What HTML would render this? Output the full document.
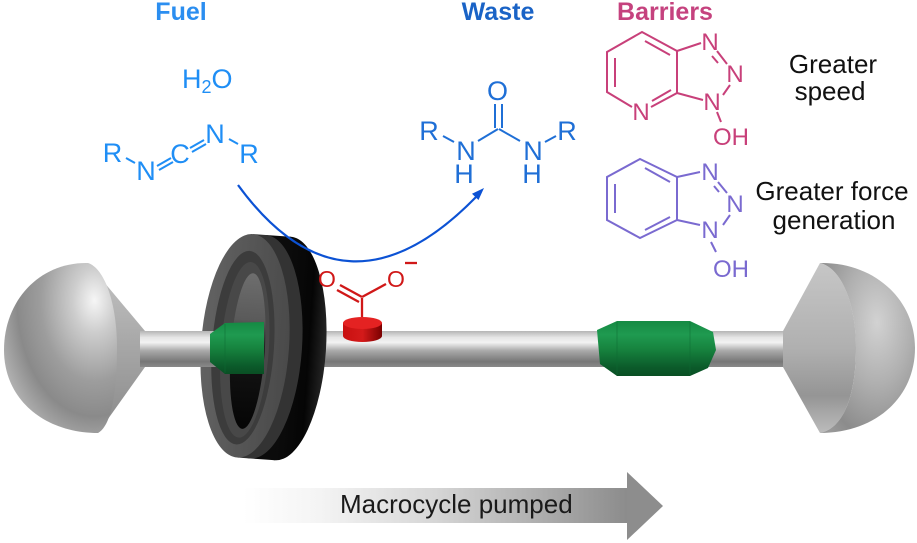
<!DOCTYPE html>
<html><head><meta charset="utf-8"><style>
html,body{margin:0;padding:0;background:#fff;}
svg{display:block;}
text{font-family:"Liberation Sans",Arial,sans-serif;}
</style></head><body>
<svg width="917" height="543" viewBox="0 0 917 543" xmlns="http://www.w3.org/2000/svg">
<defs>
<linearGradient id="axle" x1="0" y1="0" x2="0" y2="1">
<stop offset="0" stop-color="#b5b5b5"/><stop offset="0.18" stop-color="#e6e6e6"/><stop offset="0.32" stop-color="#f2f2f2"/><stop offset="0.55" stop-color="#a9a9a9"/><stop offset="0.85" stop-color="#777"/><stop offset="1" stop-color="#8a8a8a"/>
</linearGradient>
<linearGradient id="green" x1="0" y1="0" x2="0" y2="1">
<stop offset="0" stop-color="#158a43"/><stop offset="0.25" stop-color="#1f9a50"/><stop offset="0.5" stop-color="#17843f"/><stop offset="0.85" stop-color="#0b5a2a"/><stop offset="1" stop-color="#0a4f24"/>
</linearGradient>
<radialGradient id="domeL" cx="0.8" cy="0.22" r="0.95">
<stop offset="0" stop-color="#f6f6f6"/><stop offset="0.2" stop-color="#cdcdcd"/><stop offset="0.5" stop-color="#9d9d9d"/><stop offset="0.72" stop-color="#8a8a8a"/><stop offset="1" stop-color="#bdbdbd"/>
</radialGradient>
<linearGradient id="coneL" x1="0" y1="0" x2="0" y2="1">
<stop offset="0" stop-color="#c4c4c4"/><stop offset="0.5" stop-color="#a6a6a6"/><stop offset="1" stop-color="#8a8a8a"/>
</linearGradient>
<radialGradient id="domeR" cx="0.6" cy="0.35" r="0.8">
<stop offset="0" stop-color="#d2d2d2"/><stop offset="0.45" stop-color="#b0b0b0"/><stop offset="0.85" stop-color="#8c8c8c"/><stop offset="1" stop-color="#999"/>
</radialGradient>
<linearGradient id="coneR" x1="0" y1="0" x2="0" y2="1">
<stop offset="0" stop-color="#c6c6c6"/><stop offset="0.5" stop-color="#b0b0b0"/><stop offset="0.78" stop-color="#959595"/><stop offset="1" stop-color="#bcbcbc"/>
</linearGradient>
<linearGradient id="face" x1="0" y1="0" x2="1" y2="0">
<stop offset="0" stop-color="#626262"/><stop offset="1" stop-color="#4a4a4a"/>
</linearGradient>
<linearGradient id="hole" x1="0" y1="0" x2="0" y2="1">
<stop offset="0" stop-color="#6e6e6e"/><stop offset="0.3" stop-color="#5a5a5a"/><stop offset="0.5" stop-color="#151515"/><stop offset="1" stop-color="#050505"/>
</linearGradient>
<linearGradient id="blk" x1="0" y1="0" x2="1" y2="0">
<stop offset="0" stop-color="#161616"/><stop offset="0.8" stop-color="#050505"/><stop offset="1" stop-color="#262626"/>
</linearGradient>
<linearGradient id="redside" x1="0" y1="0" x2="1" y2="0">
<stop offset="0" stop-color="#c81010"/><stop offset="0.5" stop-color="#d41a1a"/><stop offset="1" stop-color="#7a0000"/>
</linearGradient>
<linearGradient id="arrowG" x1="243" y1="0" x2="627" y2="0" gradientUnits="userSpaceOnUse">
<stop offset="0" stop-color="#ffffff"/><stop offset="0.2" stop-color="#f4f4f4"/><stop offset="0.5" stop-color="#d6d6d6"/><stop offset="0.8" stop-color="#aaaaaa"/><stop offset="1" stop-color="#8c8c8c"/>
</linearGradient>
</defs>

<!-- Macrocycle pumped arrow -->
<rect x="243" y="488" width="385" height="35" fill="url(#arrowG)"/>
<polygon points="627,472 663,506 627,540" fill="#8d8d8d"/>
<text x="340" y="513" font-size="26" fill="#1a1a1a">Macrocycle pumped</text>

<!-- axle -->
<rect x="140" y="331" width="648" height="36" fill="url(#axle)"/>
<!-- right green -->
<polygon points="597,330 617,321 690,321 713,332 716,350 708,368 690,376 617,376 600,364" fill="url(#green)"/>
<line x1="617" y1="322" x2="617" y2="375" stroke="#0d6a32" stroke-width="1" opacity="0.5"/>
<line x1="690" y1="322" x2="690" y2="375" stroke="#0d6a32" stroke-width="1" opacity="0.5"/>

<!-- left stopper -->
<path d="M88,263 L145,331 L145,367 L98,433 Z" fill="url(#coneL)"/>
<path d="M88,263 C40,262 4,300 4,350 C4,400 45,433 98,433 C112,425 117,390 117,348 C117,302 104,268 88,263 Z" fill="url(#domeL)"/>

<!-- right stopper -->
<path d="M820,263 C842,268 856,305 856,348 C856,392 845,428 820,433 L783,367 L783,331 Z" fill="url(#coneR)"/>
<path d="M820,263 C875,262 915,300 915,348 C915,398 875,433 820,433 C845,428 856,392 856,348 C856,305 842,268 820,263 Z" fill="url(#domeR)"/>

<!-- ring -->
<g transform="rotate(4 262 347)">
<ellipse cx="283" cy="347" rx="43" ry="112" fill="url(#blk)"/>
<rect x="258" y="235" width="25" height="224" fill="#0b0b0b"/>
<ellipse cx="258" cy="347" rx="44" ry="112" fill="#333"/>
<rect x="245" y="235" width="13" height="224" fill="#333"/>
<ellipse cx="245" cy="347" rx="44" ry="112" fill="url(#face)"/>
<ellipse cx="243" cy="349" rx="31" ry="97" fill="#3c3c3c"/>
<ellipse cx="245" cy="351" rx="24" ry="88" fill="#484848"/>
<ellipse cx="248" cy="352" rx="17" ry="78" fill="url(#hole)"/>
</g>

<!-- left axle segment in front -->
<rect x="140" y="331" width="124" height="36" fill="url(#axle)"/>
<polygon points="210,334 225,323 264,322 264,374 225,374 210,362" fill="url(#green)"/>
<line x1="225" y1="324" x2="225" y2="373" stroke="#0d6a32" stroke-width="1" opacity="0.5"/>

<!-- red carboxylate -->
<rect x="343" y="323" width="39" height="13" fill="url(#redside)"/>
<ellipse cx="362.5" cy="336" rx="19.5" ry="6" fill="url(#redside)"/>
<ellipse cx="362.5" cy="323" rx="19.5" ry="6" fill="#e42222"/>
<g stroke="#d01818" stroke-width="2.3" fill="none">
<line x1="362" y1="317" x2="362" y2="298"/>
<line x1="362" y1="297" x2="340" y2="285"/>
<line x1="359" y1="302" x2="337" y2="290"/>
<line x1="362" y1="297" x2="386" y2="284"/>
<line x1="405" y1="263" x2="417" y2="263"/>
</g>
<text x="327" y="287" font-size="23" fill="#d01818" text-anchor="middle">O</text>
<text x="396" y="287" font-size="23" fill="#d01818" text-anchor="middle">O</text>

<!-- blue reaction arrow -->
<path d="M238,185 Q345,332 477,196" stroke="#0c52d4" stroke-width="2.2" fill="none"/>
<polygon points="484,188 478.5,200 472,193.8" fill="#0c52d4"/>

<!-- titles -->
<text x="181" y="20" font-size="25" font-weight="bold" fill="#2b8ef0" text-anchor="middle">Fuel</text>
<text x="498" y="20" font-size="25" font-weight="bold" fill="#1a63c6" text-anchor="middle">Waste</text>
<text x="665" y="20" font-size="25" font-weight="bold" fill="#c5427e" text-anchor="middle">Barriers</text>

<!-- fuel -->
<g fill="#1f8ef5" font-size="27" text-anchor="middle">
<text x="112.5" y="162">R</text>
<text x="146" y="180">N</text>
<text x="180" y="163">C</text>
<text x="215" y="143">N</text>
<text x="249" y="163">R</text>
</g>
<text x="182" y="88" font-size="27" fill="#1f8ef5">H<tspan font-size="18" dy="5">2</tspan><tspan dy="-5">O</tspan></text>
<g stroke="#1f8ef5" stroke-width="2">
<line x1="126" y1="158" x2="135" y2="163"/>
<line x1="157" y1="166" x2="171" y2="158"/>
<line x1="159" y1="170" x2="173" y2="162"/>
<line x1="190" y1="148" x2="204" y2="140"/>
<line x1="192" y1="152" x2="206" y2="144"/>
<line x1="229" y1="139" x2="238" y2="144"/>
</g>

<!-- urea -->
<g fill="#1f6fd6" font-size="27" text-anchor="middle">
<text x="497.5" y="100">O</text>
<text x="466" y="160">N</text>
<text x="464" y="183">H</text>
<text x="533" y="160">N</text>
<text x="532" y="183">H</text>
<text x="429" y="140">R</text>
<text x="567" y="140">R</text>
</g>
<g stroke="#1f6fd6" stroke-width="2">
<line x1="495" y1="104" x2="495" y2="128"/>
<line x1="502" y1="104" x2="502" y2="128"/>
<line x1="498" y1="129" x2="478" y2="141"/>
<line x1="499" y1="129" x2="520" y2="141"/>
<line x1="443" y1="136" x2="454" y2="142"/>
<line x1="545" y1="142" x2="556" y2="136"/>
</g>

<!-- HOAt -->
<g stroke="#c8407a" stroke-width="2" fill="none">
<polyline points="632,107 607,92 607,52 642,32 677,51 677,93 651,107"/>
<line x1="615" y1="58" x2="615" y2="87"/>
<line x1="645" y1="41" x2="670" y2="55"/>
<line x1="652" y1="101" x2="671" y2="90"/>
<line x1="677" y1="51" x2="701" y2="43"/>
<line x1="717" y1="51" x2="727" y2="64"/>
<line x1="712" y1="56" x2="718" y2="63"/>
<line x1="730" y1="85" x2="723" y2="95"/>
<line x1="703" y1="100" x2="677" y2="93"/>
<line x1="717" y1="112" x2="721" y2="122"/>
</g>
<g fill="#c8407a" font-size="24" text-anchor="middle">
<text x="641" y="120">N</text>
<text x="710" y="50">N</text>
<text x="735" y="82">N</text>
<text x="712" y="110">N</text>
</g>
<text x="713" y="145" font-size="24" fill="#c8407a">OH</text>

<!-- HOBt -->
<g stroke="#7a6ad0" stroke-width="2" fill="none">
<polygon points="640,159 677,177 677,220 640,238 607,220 607,177"/>
<line x1="615" y1="184" x2="615" y2="213"/>
<line x1="645" y1="168" x2="670" y2="182"/>
<line x1="645" y1="230" x2="670" y2="217"/>
<line x1="677" y1="177" x2="700" y2="172"/>
<line x1="718" y1="182" x2="727" y2="193"/>
<line x1="714" y1="186" x2="719" y2="192"/>
<line x1="730" y1="215" x2="723" y2="225"/>
<line x1="677" y1="220" x2="700" y2="225"/>
<line x1="711" y1="242" x2="716" y2="252"/>
</g>
<g fill="#7a6ad0" font-size="24" text-anchor="middle">
<text x="710" y="180">N</text>
<text x="735" y="212">N</text>
<text x="710" y="238">N</text>
</g>
<text x="713" y="277" font-size="24" fill="#7a6ad0">OH</text>

<!-- descriptions -->
<g fill="#111" font-size="26" text-anchor="middle">
<text x="833" y="73">Greater</text>
<text x="830" y="100">speed</text>
<text x="832" y="200">Greater force</text>
<text x="834" y="229">generation</text>
</g>
</svg>
</body></html>
